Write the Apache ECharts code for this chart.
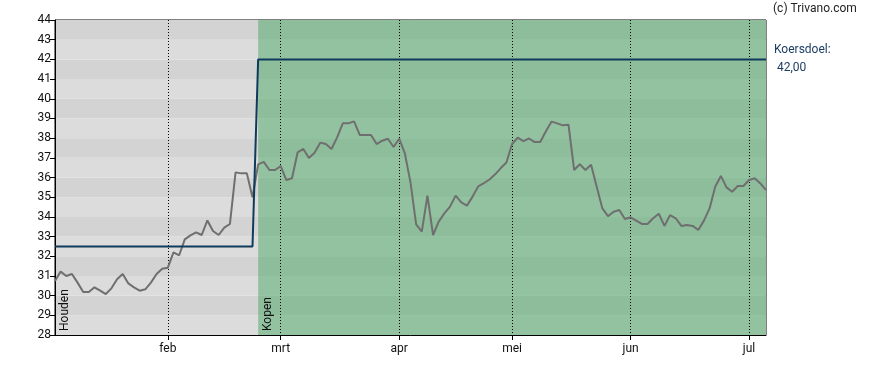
<!DOCTYPE html>
<html>
  <head>
    <meta charset="utf-8" />
    <title>Koers en koersdoel</title>
    <script src="https://cdn.jsdelivr.net/npm/echarts@6.0.0/dist/echarts.min.js"></script>
  </head>
  <body style="margin: 0">
    <div id="main" style="width: 888px; height: 370px"></div>
    <script type="text/javascript">
      // trading days: weekdays between start and end, minus exchange holidays
      var startDate = "2025-01-06";
      var endDate = "2025-07-04";
      var holidays = ["2025-04-18", "2025-04-21", "2025-05-01"];
      var monthNames = ["jan", "feb", "mrt", "apr", "mei", "jun", "jul", "aug", "sep", "okt", "nov", "dec"];

      // closing price, one value per trading day
      var prices = [
        30.74, 31.22, 31.0, 31.1, 30.66, 30.18, 30.18, 30.42, 30.25, 30.08,
        30.37, 30.83, 31.1, 30.62, 30.42, 30.25, 30.32, 30.66, 31.1, 31.37,
        31.42, 32.2, 32.05, 32.86, 33.06, 33.21, 33.08, 33.82, 33.28, 33.08,
        33.45, 33.64, 36.26, 36.21, 36.21, 34.99,
        36.67, 36.79, 36.38, 36.38, 36.58, 35.87, 35.96, 37.28, 37.45, 36.99,
        37.26, 37.77, 37.7, 37.45, 38.04, 38.75, 38.75, 38.85, 38.16, 38.16,
        38.16, 37.7, 37.87, 37.97, 37.55, 37.97, 37.22, 35.75, 33.62, 33.25,
        35.08, 33.08, 33.76, 34.18, 34.52, 35.08, 34.74, 34.57, 35.03, 35.55,
        35.71, 35.9, 36.16, 36.48, 36.76, 37.7, 38.02, 37.85, 37.98, 37.8,
        37.8, 38.35, 38.84, 38.75,
        38.65, 38.68, 36.38, 36.67, 36.38, 36.65, 35.53, 34.43, 34.04, 34.26,
        34.35, 33.89, 33.98, 33.81, 33.64, 33.64, 33.93, 34.16, 33.54, 34.09,
        33.93, 33.54, 33.59, 33.54, 33.33, 33.81, 34.43, 35.53, 36.08, 35.5,
        35.28, 35.57, 35.57, 35.87, 35.96, 35.7, 35.36
      ];

      // price target (koersdoel) change points
      var targetDates = ["2025-01-06", "2025-02-24", "2025-02-25", "2025-07-04"];
      var targetValues = [32.5, 32.5, 42, 42];

      // advice zones
      var zoneNames = ["Houden", "Kopen"];
      var zoneStarts = ["2025-01-06", "2025-02-25"];
      var zoneEnds = ["2025-02-24", "2025-07-04"];
      var zoneColors = ["rgba(0,0,0,0)", "rgba(50,160,80,0.43)"];

      var yTicks = { min: 28, max: 44, step: 1 };

      var dates = [];
      var d = new Date(startDate + "T12:00:00Z");
      var last = new Date(endDate + "T12:00:00Z");
      while (d <= last) {
        var s = d.toISOString().slice(0, 10);
        var wd = d.getUTCDay();
        if (wd !== 0 && wd !== 6 && holidays.indexOf(s) < 0) dates.push(s);
        d.setUTCDate(d.getUTCDate() + 1);
      }

      function monthStart(index) {
        return index > 0 && dates[index].slice(5, 7) !== dates[index - 1].slice(5, 7);
      }

      var myChart = echarts.init(document.getElementById("main"));
      var font = "Roboto";

      var option = {
        animation: false,
        grid: {
          left: 55,
          right: 122,
          top: 20,
          bottom: 35,
          show: true,
          borderColor: "#000",
          borderWidth: 1,
          backgroundColor: "transparent"
        },
        xAxis: {
          type: "category",
          data: dates,
          boundaryGap: false,
          z: 2,
          axisLine: { lineStyle: { color: "#000", width: 1 } },
          axisTick: { interval: monthStart, length: 5, lineStyle: { color: "#000" } },
          axisLabel: {
            interval: monthStart,
            margin: 8,
            color: "#111",
            fontFamily: font,
            fontSize: 12,
            formatter: function (v) {
              return monthNames[parseInt(v.slice(5, 7), 10) - 1];
            }
          },
          splitLine: {
            show: true,
            interval: monthStart,
            lineStyle: { color: "#000", width: 1, type: [1, 2] }
          }
        },
        yAxis: {
          type: "value",
          min: yTicks.min,
          max: yTicks.max,
          interval: yTicks.step,
          axisLine: { show: true, lineStyle: { color: "#000", width: 1 } },
          axisTick: { show: true, length: 5, lineStyle: { color: "#000" } },
          axisLabel: { margin: 4, color: "#111", fontFamily: font, fontSize: 12 },
          splitLine: { show: false },
          splitArea: { show: true, areaStyle: { color: ["#dcdcdc", "#d3d3d3"] } }
        },
        graphic: [
          {
            type: "text",
            left: 773,
            top: 3,
            style: { text: "(c) Trivano.com", fill: "#222", font: "12px " + font }
          }
        ],
        series: [
          {
            name: "zones",
            type: "line",
            data: [],
            z: 1,
            silent: true,
            markArea: {
              silent: true,
              data: zoneNames.map(function (n, i) {
                return [
                  {
                    name: n,
                    xAxis: zoneStarts[i],
                    itemStyle: { color: zoneColors[i] },
                    label: {
                      show: true,
                      position: "insideBottomLeft",
                      rotate: 90,
                      align: "left",
                      verticalAlign: "top",
                      distance: 4,
                      color: "#111",
                      fontFamily: font,
                      fontSize: 12
                    }
                  },
                  { xAxis: zoneEnds[i] }
                ];
              })
            }
          },
          {
            name: "Koers",
            type: "line",
            data: prices,
            z: 3,
            symbol: "none",
            lineStyle: { color: "#6f6f6f", width: 2 }
          },
          {
            name: "Koersdoel",
            type: "line",
            data: targetDates.map(function (t, i) {
              return [t, targetValues[i]];
            }),
            z: 4,
            symbol: "none",
            lineStyle: { color: "#0e3a5c", width: 2 },
            endLabel: {
              show: true,
              distance: 8,
              color: "#1c3d64",
              fontFamily: font,
              fontSize: 12,
              lineHeight: 18,
              align: "left",
              formatter: function (p) {
                return "Koersdoel:\n " + p.value[1].toFixed(2).replace(".", ",");
              }
            }
          }
        ]
      };

      myChart.setOption(option);
    </script>
  </body>
</html>
